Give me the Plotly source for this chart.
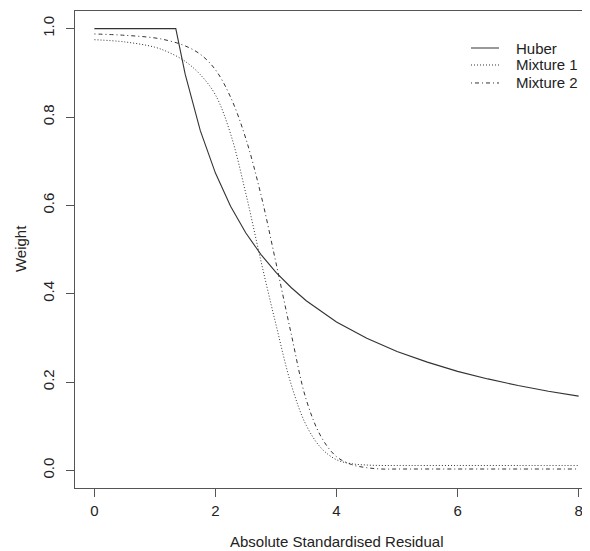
import plotly.graph_objects as go

# Data
huber_x = [0, 1.345, 1.5, 1.75, 2, 2.25, 2.5, 2.75, 3, 3.25, 3.5, 3.75, 4,
           4.5, 5, 5.5, 6, 6.5, 7, 7.5, 8]
huber_y = [1.0, 1.0, 0.897, 0.769, 0.673, 0.598, 0.538, 0.489, 0.448, 0.414,
           0.384, 0.359, 0.336, 0.299, 0.269, 0.245, 0.224, 0.207, 0.192,
           0.179, 0.168]

mix_x = [0, 0.5, 1, 1.25, 1.5, 1.75, 2, 2.25, 2.5, 2.75, 3, 3.25, 3.5, 3.75,
         4, 4.25, 4.5, 4.75, 5, 6, 7, 8]
mix1_y = [0.975, 0.970, 0.958, 0.945, 0.926, 0.896, 0.850, 0.762, 0.628,
          0.475, 0.330, 0.195, 0.102, 0.050, 0.024, 0.015, 0.012, 0.011,
          0.011, 0.011, 0.011, 0.011]
mix2_y = [0.988, 0.985, 0.979, 0.972, 0.961, 0.942, 0.907, 0.845, 0.752,
          0.625, 0.470, 0.310, 0.160, 0.075, 0.031, 0.013, 0.006, 0.003,
          0.003, 0.003, 0.003, 0.003]

series_names = ["Huber", "Mixture 1", "Mixture 2"]
series_dash = ["solid", "1px,2px", "1px,3px,4px,3px"]

x_ticks = [0, 2, 4, 6, 8]
y_ticks = [0.0, 0.2, 0.4, 0.6, 0.8, 1.0]
y_tick_labels = ["0.0", "0.2", "0.4", "0.6", "0.8", "1.0"]

FONT = "Liberation Sans, Arial, Helvetica, sans-serif"
TXT = "#222222"
LINE = "#333333"
FS = 15

fig = go.Figure()
fig.add_trace(go.Scatter(x=huber_x, y=huber_y, mode="lines", name=series_names[0],
                         line=dict(color=LINE, width=1.1)))
fig.add_trace(go.Scatter(x=mix_x, y=mix1_y, mode="lines", name=series_names[1],
                         line=dict(color=LINE, width=1, dash=series_dash[1],
                                   shape="spline", smoothing=1.0)))
fig.add_trace(go.Scatter(x=mix_x, y=mix2_y, mode="lines", name=series_names[2],
                         line=dict(color=LINE, width=1, dash=series_dash[2],
                                   shape="spline", smoothing=1.0)))

# Legend (R-style, no box) drawn in paper coordinates
shapes = []
annotations = []
leg_rows = [0.9224, 0.8868, 0.8491]
for name, dash, yy in zip(series_names, series_dash, leg_rows):
    shapes.append(dict(type="line", xref="paper", yref="paper",
                       x0=0.7572, x1=0.8107, y0=yy, y1=yy,
                       line=dict(color=LINE, width=1, dash=dash)))
    annotations.append(dict(text=name, xref="paper", yref="paper",
                            x=0.8394, y=yy, xanchor="left", yanchor="middle",
                            showarrow=False,
                            font=dict(family=FONT, size=FS, color=TXT)))

annotations += [
    dict(text="Absolute Standardised Residual", xref="paper", yref="paper",
         x=0.4996, y=-0.1132, xanchor="center", yanchor="middle",
         showarrow=False, font=dict(family=FONT, size=FS, color=TXT)),
    dict(text="Weight", xref="paper", yref="paper",
         x=-0.1052, y=0.503, xanchor="center", yanchor="middle",
         textangle=-90, showarrow=False,
         font=dict(family=FONT, size=FS, color=TXT)),
]

fig.update_layout(
    width=590, height=551,
    margin=dict(l=67, r=0, t=3, b=71, autoexpand=False),
    paper_bgcolor="white", plot_bgcolor="white",
    font=dict(family=FONT, size=FS, color=TXT),
    showlegend=False,
    shapes=shapes,
    annotations=annotations,
)
fig.update_xaxes(range=[-0.32, 8.32], tickvals=x_ticks, ticks="outside",
                 ticklen=8, tickcolor="#555555", showgrid=False,
                 zeroline=False, showline=True, linecolor="#555555",
                 linewidth=1, mirror=True, ticklabelstandoff=1,
                 automargin=False)
fig.update_yaxes(range=[-0.04, 1.04], tickvals=y_ticks, ticktext=y_tick_labels,
                 ticks="outside", ticklen=8, tickcolor="#555555",
                 showgrid=False, zeroline=False, showline=True,
                 linecolor="#555555", linewidth=1, tickangle=-90,
                 ticklabelstandoff=6, automargin=False)

fig.write_html("out.html")
